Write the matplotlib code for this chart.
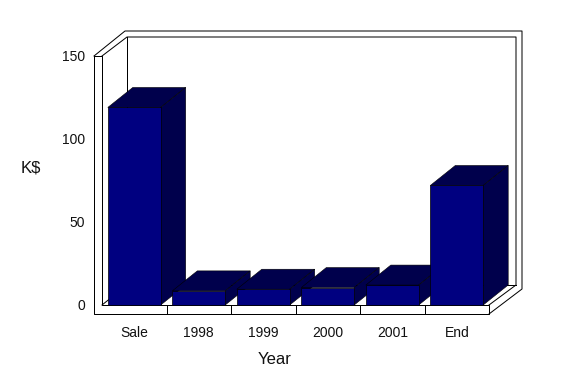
import matplotlib
matplotlib.use("Agg")
import matplotlib.pyplot as plt
from matplotlib.patches import Polygon
from matplotlib.transforms import Affine2D

categories = ["Sale", "1998", "1999", "2000", "2001", "End"]
values = [119, 8.5, 9.5, 10.5, 12, 72]
y_ticks = [0, 50, 100, 150]
x_label = "Year"
y_label = "K$"

W, H = 574, 382
FRONT = "#000080"
DARK = "#00004c"
DX, DY = 25, 20
BAR_W = 0.82
plt.rcParams["font.family"] = ["Liberation Sans", "DejaVu Sans"]

fig = plt.figure(figsize=(W / 100, H / 100), dpi=100, facecolor="white")
ax = fig.add_axes([102 / W, (H - 305) / H, 387 / W, 249 / H])
ax.set_xlim(-0.5, 5.5)
ax.set_ylim(0, 150)
ax.axis("off")

def px_line(points):
    # points are pixel offsets from the axes' lower-left corner
    tf = Affine2D().translate(102, H - 305)
    xs, ys = zip(*points)
    ax.plot(xs, ys, transform=tf, color="black", lw=0.72, clip_on=False,
            antialiased=True, solid_capstyle="projecting", zorder=1)

R = 387
T = 249
px_line([(-8, T), (-8, -9), (R, -9), (R, 0), (0, 0), (0, T), (-8, T)])
px_line([(-8, T), (23, T + 25), (R + 33, T + 25), (R + 33, 16), (R, -9)])
px_line([(0, T), (25, T + 19), (R + 27, T + 19), (R + 27, 20), (R, 0)])
px_line([(25, T + 19), (25, 20), (R + 27, 20)])
px_line([(0, 0), (25, 20)])
for i in range(1, len(categories)):
    x_px = R * i / len(categories)
    px_line([(x_px, 0), (x_px, -9)])

for i, v in enumerate(values):
    l, r = i - BAR_W / 2, i + BAR_W / 2
    p0 = ax.transData.transform([(l, v), (r, v), (r, 0)])
    top = [tuple(p0[0]), tuple(p0[1]), (p0[1][0] + DX, p0[1][1] + DY), (p0[0][0] + DX, p0[0][1] + DY)]
    side = [tuple(p0[1]), (p0[1][0] + DX, p0[1][1] + DY), (p0[2][0] + DX, p0[2][1] + DY), tuple(p0[2])]
    for poly in (top, side):
        fig.add_artist(Polygon(poly, closed=True, transform=None, facecolor=DARK,
                               edgecolor="black", lw=0.4, zorder=3 + i))
    front = [tuple(p0[0]), tuple(p0[1]), tuple(p0[2]), (p0[0][0], p0[2][1])]
    fig.add_artist(Polygon(front, closed=True, transform=None, facecolor=FRONT,
                           edgecolor="black", lw=0.5, zorder=3 + i))

for i, c in enumerate(categories):
    ax.annotate(c, (i, 0), xytext=(0, -28), textcoords="offset pixels", ha="center",
                va="center", fontsize=10, color="#111111", annotation_clip=False)
for t in y_ticks:
    ax.annotate(str(t), (-0.5, t), xytext=(-17, -1), textcoords="offset pixels", ha="right",
                va="center", fontsize=10, color="#111111", annotation_clip=False)
fig.text(275 / W, (H - 360) / H, x_label, ha="center", va="center", fontsize=12, color="#111111")
fig.text(31 / W, (H - 167.5) / H, y_label, ha="center", va="center", fontsize=12, color="#111111")

fig.savefig("out.png", dpi=100)
